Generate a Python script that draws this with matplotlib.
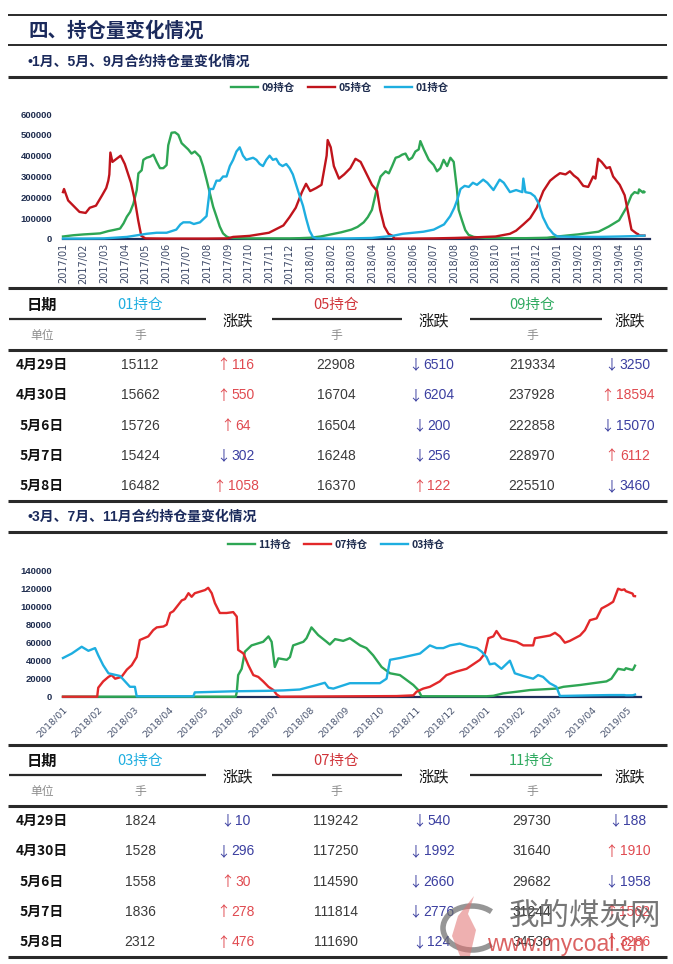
import matplotlib
matplotlib.use('Agg')
import matplotlib.pyplot as plt
from matplotlib.patches import Arc, Polygon

plt.rcParams['font.family'] = ['Noto Sans CJK SC', 'DejaVu Sans']

# ---------------- 表格数据 ----------------
dates = ['4月29日', '4月30日', '5月6日', '5月7日', '5月8日']

oi01 = [15112, 15662, 15726, 15424, 16482]
chg01 = [116, 550, 64, -302, 1058]
oi05 = [22908, 16704, 16504, 16248, 16370]
chg05 = [-6510, -6204, -200, -256, 122]
oi09 = [219334, 237928, 222858, 228970, 225510]
chg09 = [-3250, 18594, -15070, 6112, -3460]

oi03 = [1824, 1528, 1558, 1836, 2312]
chg03 = [-10, -296, 30, 278, 476]
oi07 = [119242, 117250, 114590, 111814, 111690]
chg07 = [-540, -1992, -2660, -2776, -124]
oi11 = [29730, 31640, 29682, 31244, 34530]
chg11 = [-188, 1910, -1958, 1562, 3286]

# ---------------- 图1：1/5/9月合约 (x = 自2017/01起的月份) ----------------
labels1 = ['2017/01', '2017/02', '2017/03', '2017/04', '2017/05', '2017/06',
           '2017/07', '2017/08', '2017/09', '2017/10', '2017/11', '2017/12',
           '2018/01', '2018/02', '2018/03', '2018/04', '2018/05', '2018/06',
           '2018/07', '2018/08', '2018/09', '2018/10', '2018/11', '2018/12',
           '2019/01', '2019/02', '2019/03', '2019/04', '2019/05']
yticks1 = [0, 100000, 200000, 300000, 400000, 500000, 600000]
tail_m1 = [27.93, 27.97, 28.16, 28.19, 28.23]

x09 = [0, 0.5, 1, 1.5, 1.8, 2.2, 2.45, 2.77, 2.94, 3.1, 3.26, 3.42, 3.58,
       3.66, 3.82, 3.9, 4.06, 4.23, 4.39, 4.55, 4.71, 4.87, 5.03, 5.11, 5.27,
       5.44, 5.6, 5.76, 5.92, 6.08, 6.24, 6.4, 6.65, 6.8, 6.97, 7.13, 7.29,
       7.45, 7.61, 7.77, 7.94, 8.1, 9, 10, 11, 11.5, 12, 12.5, 13.0, 13.5,
       14.0, 14.3, 14.6, 14.8, 15.0, 15.26, 15.42, 15.66, 15.82, 15.98, 16.15,
       16.31, 16.47, 16.63, 16.79, 16.95, 17.11, 17.27, 17.35, 17.52, 17.76,
       18.0, 18.16, 18.32, 18.48, 18.65, 18.81, 18.97, 19.13, 19.21, 19.37,
       19.53, 19.69, 19.94, 20.5, 21.5, 22.5, 23.5, 24.0, 25.0, 26.0, 26.5,
       27.0, 27.35, 27.6, 27.75] + tail_m1
y09 = [12000, 18000, 22000, 25000, 27000, 38000, 43000, 50000, 75000, 107000,
       130000, 170000, 235000, 315000, 330000, 380000, 390000, 395000, 405000,
       370000, 340000, 340000, 355000, 450000, 510000, 512000, 500000, 460000,
       445000, 430000, 410000, 420000, 395000, 350000, 285000, 220000, 155000,
       108000, 60000, 27000, 12000, 5000, 3000, 3000, 3000, 4000, 6000, 12000,
       22000, 32000, 45000, 58000, 80000, 105000, 140000, 250000, 300000,
       325000, 315000, 350000, 390000, 395000, 405000, 410000, 380000, 390000,
       420000, 430000, 470000, 430000, 380000, 355000, 325000, 340000, 380000,
       350000, 390000, 370000, 235000, 140000, 90000, 43000, 20000, 10000,
       5000, 4000, 4000, 6000, 12000, 22000, 35000, 60000, 90000, 150000,
       210000, 225000] + oi09

x05 = [0, 0.05, 0.25, 0.5, 0.8, 1.1, 1.3, 1.6, 1.9, 2.1, 2.2, 2.25, 2.3, 2.4,
       2.6, 2.8, 3.0, 3.3, 3.5, 3.65, 3.8, 4.0, 5, 6, 7, 8, 8.26, 9.06, 10.0,
       10.7, 11.0, 11.3, 11.6, 11.8, 12.0, 12.3, 12.55, 12.8, 12.85, 13.0,
       13.15, 13.4, 13.65, 13.95, 14.2, 14.45, 14.6, 14.8, 15.0, 15.25, 15.4,
       15.6, 15.8, 16.0, 16.1, 17, 18, 19, 20, 21, 21.7, 22.0, 22.35, 22.68,
       23.0, 23.32, 23.65, 23.9, 24.13, 24.4, 24.61, 24.8, 25.0, 25.26, 25.5,
       25.74, 25.85, 25.98, 26.15, 26.39, 26.55, 26.71, 27.03, 27.27, 27.44,
       27.6, 27.84] + tail_m1
y05 = [225000, 240000, 185000, 160000, 130000, 125000, 150000, 160000, 210000,
       245000, 280000, 310000, 415000, 370000, 385000, 400000, 360000, 270000,
       180000, 90000, 15000, 3000, 2000, 2000, 2000, 3000, 10000, 15000, 30000,
       65000, 105000, 150000, 225000, 265000, 230000, 245000, 260000, 400000,
       475000, 440000, 350000, 290000, 310000, 340000, 385000, 370000, 340000,
       300000, 260000, 230000, 140000, 60000, 25000, 15000, 2000, 2000, 3000,
       5000, 8000, 12000, 25000, 40000, 70000, 100000, 150000, 230000, 280000,
       300000, 316000, 310000, 325000, 305000, 290000, 255000, 250000, 300000,
       290000, 385000, 370000, 340000, 345000, 300000, 260000, 210000, 125000,
       45000, 27000] + oi05

x01 = [0, 1, 2, 3.1, 3.74, 4.06, 4.55, 5.03, 5.5, 5.7, 5.84, 6.16, 6.35, 6.65,
       6.97, 7.13, 7.29, 7.45, 7.61, 7.77, 7.94, 8.1, 8.26, 8.42, 8.58, 8.74,
       8.9, 9.06, 9.23, 9.39, 9.55, 9.71, 9.87, 10.03, 10.19, 10.35, 10.5,
       10.66, 10.84, 11.0, 11.16, 11.32, 11.48, 11.65, 11.8, 11.97, 12.13,
       12.3, 13, 14, 15.0, 16.0, 16.5, 17.0, 17.5, 18.0, 18.5, 18.8, 19.0,
       19.15, 19.3, 19.5, 19.7, 19.9, 20.1, 20.4, 20.6, 20.9, 21.2, 21.4, 21.7,
       22.0, 22.3, 22.35, 22.45, 22.7, 22.9, 23.1, 23.3, 23.55, 23.8, 24.0,
       25.0, 26.0, 27.0, 27.8] + tail_m1
y01 = [2000, 2000, 3000, 10000, 20000, 25000, 30000, 30000, 45000, 70000,
       80000, 80000, 72000, 80000, 110000, 240000, 240000, 280000, 280000,
       300000, 300000, 350000, 380000, 420000, 440000, 400000, 380000, 385000,
       390000, 380000, 360000, 350000, 380000, 400000, 380000, 385000, 360000,
       350000, 360000, 340000, 310000, 260000, 210000, 160000, 100000, 40000,
       10000, 3000, 2000, 3000, 5000, 15000, 25000, 30000, 35000, 45000, 70000,
       110000, 150000, 190000, 240000, 255000, 250000, 270000, 260000, 285000,
       270000, 235000, 285000, 270000, 225000, 235000, 225000, 290000, 225000,
       220000, 205000, 170000, 105000, 55000, 25000, 12000, 10000, 10000,
       12000, 14000] + oi01

# ---------------- 图2：3/7/11月合约 (x = 自2018/01起的月份) ----------------
labels2 = ['2018/01', '2018/02', '2018/03', '2018/04', '2018/05', '2018/06',
           '2018/07', '2018/08', '2018/09', '2018/10', '2018/11', '2018/12',
           '2019/01', '2019/02', '2019/03', '2019/04', '2019/05']
yticks2 = [0, 20000, 40000, 60000, 80000, 100000, 120000, 140000]
tail_m2 = [15.93, 15.97, 16.16, 16.19, 16.23]

x11 = [0, 4.9, 4.93, 4.97, 5.07, 5.16, 5.35, 5.68, 5.83, 5.92, 6.01, 6.11,
       6.35, 6.44, 6.53, 6.82, 6.91, 7.05, 7.24, 7.48, 7.57, 7.72, 7.95, 8.14,
       8.43, 8.61, 8.8, 9.04, 9.28, 9.56, 9.7, 9.94, 10.08, 10.17, 12.02,
       12.21, 12.49, 12.87, 13.25, 14.0, 14.2, 14.67, 15.04, 15.42, 15.56,
       15.75] + tail_m2
y11 = [0, 0, 5000, 24000, 31000, 50000, 57000, 61000, 67000, 61000, 33000,
       42600, 41000, 44000, 57000, 61000, 65000, 77000, 68500, 61000, 58000,
       64000, 62000, 65000, 57000, 54000, 46000, 33000, 26000, 24000, 20000,
       13000, 7400, 500, 500, 1000, 3700, 5500, 7400, 9000, 11000, 13000,
       15000, 17000, 20000, 31000] + oi11

x07 = [0, 0.97, 1.0, 1.14, 1.29, 1.38, 1.48, 1.66, 1.81, 1.95, 2.09, 2.18,
       2.42, 2.56, 2.66, 2.85, 2.94, 3.04, 3.13, 3.27, 3.37, 3.46, 3.56, 3.65,
       3.74, 4.03, 4.12, 4.22, 4.31, 4.45, 4.64, 4.83, 4.93, 4.97, 5.12, 5.26,
       5.4, 5.54, 5.68, 5.83, 5.97, 6.06, 6.16, 9.47, 9.94, 10.03, 10.22,
       10.41, 10.69, 10.88, 11.17, 11.45, 11.64, 11.83, 11.97, 12.07, 12.21,
       12.3, 12.44, 12.63, 12.87, 13.06, 13.34, 13.39, 13.82, 13.96, 14.1,
       14.24, 14.38, 14.67, 14.81, 14.95, 15.14, 15.28, 15.47, 15.61, 15.75,
       15.85] + tail_m2
y07 = [0, 0, 10000, 17000, 22000, 24000, 20000, 22000, 30000, 35000, 44000,
       63000, 67000, 74000, 77000, 78000, 80000, 93000, 95000, 102000, 107000,
       108500, 115000, 111000, 115000, 118500, 121000, 115000, 104000, 93000,
       93000, 94000, 89000, 52000, 48000, 35000, 24000, 22000, 17000, 11000,
       7400, 2600, 0, 700, 1500, 5500, 9000, 11000, 17000, 24000, 28000, 31000,
       36000, 41000, 48000, 65000, 67000, 73000, 65000, 63000, 61000, 57000,
       57000, 65000, 68000, 71000, 67000, 60000, 62000, 68000, 74000, 85000,
       87000, 98000, 102000, 105500, 120000, 118500] + oi07

x03 = [0, 0.25, 0.53, 0.72, 0.91, 1.0, 1.14, 1.29, 1.62, 1.76, 1.9, 2.04,
       2.09, 3.0, 3.7, 3.74, 4.83, 5.78, 6.25, 6.72, 7.01, 7.2, 7.43, 7.53,
       7.67, 8.14, 8.99, 9.18, 9.28, 9.56, 10.13, 10.41, 10.6, 10.79, 10.98,
       11.26, 11.5, 11.74, 11.88, 12.02, 12.11, 12.25, 12.44, 12.68, 12.82,
       13.06, 13.34, 13.48, 13.62, 13.81, 14.0, 14.1, 15.0, 15.5] + tail_m2
y03 = [43000, 48000, 55500, 51000, 54000, 46000, 35000, 26000, 23000, 17000,
       11000, 11000, 500, 500, 500, 4800, 6000, 6500, 7000, 8000, 11000, 13000,
       15500, 10000, 9000, 15000, 15000, 20000, 41000, 43000, 48000, 57000,
       54000, 54000, 57000, 59000, 56000, 54000, 50000, 44000, 36000, 37000,
       31000, 40000, 26000, 23000, 20000, 24000, 22000, 15000, 11000, 800,
       1500, 1800] + oi03

# ---------------- 样式 ----------------
NAVY = '#1b2a5c'
GREEN = '#2ea654'
RED1 = '#c0141c'
RED2 = '#e2282a'
BLUE = '#1eaee0'
UP = '#e04a50'
DOWN = '#3b3fa0'
NUM = ['Liberation Sans Narrow', 'Liberation Sans', 'Noto Sans CJK SC']
SUB = ['Liberation Sans', 'Noto Sans CJK SC']

fig = plt.figure(figsize=(6.73, 9.64), dpi=100)
renderer = fig.canvas.get_renderer()

# 像素坐标的覆盖层，用于标题、分隔线和表格
ov = fig.add_axes([0, 0, 1, 1])
ov.set_xlim(0, 673)
ov.set_ylim(964, 0)
ov.axis('off')


def hline(y, x0=8, x1=667, lw=1.6, color='#2a2a2a'):
    ov.plot([x0, x1], [y, y], color=color, lw=lw, solid_capstyle='butt')


ov.text(28, 31, '四、持仓量变化情况', fontsize=14, weight='bold', color=NAVY,
        ha='left', va='center')
hline(15, lw=1.4)
hline(45, lw=1.4)
ov.text(28, 62, '•1月、5月、9月合约持仓量变化情况', fontsize=10,
        weight='bold', color=NAVY, ha='left', va='center', family=SUB)
hline(76.5, lw=2.2)
hline(288, lw=2.2)
ov.text(28, 517, '•3月、7月、11月合约持仓量变化情况', fontsize=10,
        weight='bold', color=NAVY, ha='left', va='center', family=SUB)
hline(532, lw=2.2)
hline(744.5, lw=2.2)


def draw_table(y0, heads, head_colors, oi_cols, chg_cols):
    cols = [42, 140, 238, 336, 434, 532, 630]
    ov.text(cols[0], y0, '日期', fontsize=11, weight='bold', color='#111111',
            ha='center', va='center')
    ov.text(cols[0], y0 + 31, '单位', fontsize=8.5, color='#8c8c8c',
            ha='center', va='center')
    for k in range(3):
        cx = cols[1 + 2 * k]
        ov.text(cx, y0, heads[k], fontsize=10.5, color=head_colors[k],
                ha='center', va='center')
        ov.text(cx, y0 + 31, '手', fontsize=8.5, color='#8c8c8c',
                ha='center', va='center')
        ov.text(cols[2 + 2 * k], y0 + 16, '涨跌', fontsize=11,
                color='#1a1a1a', ha='center', va='center')
    for x0, x1 in [(9, 206), (272, 402), (470, 602)]:
        hline(y0 + 14, x0, x1, lw=1.6)
    hline(y0 + 45, lw=2.2)
    for i, d in enumerate(dates):
        ry = y0 + 60 + 30.3 * i
        ov.text(cols[0], ry, d, fontsize=10, weight='bold', color='#111111',
                ha='center', va='center')
        for k in range(3):
            ov.text(cols[1 + 2 * k], ry, str(oi_cols[k][i]), fontsize=10,
                    color='#3a3a3a', ha='center', va='center', family=NUM)
            c = chg_cols[k][i]
            cx = cols[2 + 2 * k]
            col = UP if c > 0 else DOWN
            num = ov.text(cx + 5, ry, str(abs(c)), fontsize=10, color=col,
                          ha='center', va='center', family=NUM)
            # 箭头紧贴数字左侧
            left_px = num.get_window_extent(renderer=renderer).x0
            left = ov.transData.inverted().transform((left_px, 0))[0]
            ov.text(left - 1.5, ry + 0.5, '↑' if c > 0 else '↓',
                    fontsize=10, color=col, ha='right', va='center',
                    family=['Noto Sans CJK SC'])
    hline(y0 + 196, lw=2.2)


draw_table(305, ['01持仓', '05持仓', '09持仓'], [BLUE, '#d0343a', '#2faa60'],
           [oi01, oi05, oi09], [chg01, chg05, chg09])
draw_table(761, ['03持仓', '07持仓', '11持仓'], [BLUE, '#d0343a', '#2faa60'],
           [oi03, oi07, oi11], [chg03, chg07, chg11])

# 水印（标志 + 文字）
ov.add_patch(Arc((472, 928), 58, 44, theta1=40, theta2=320, lw=4,
                 color='#6a6a6a', alpha=0.7, zorder=9))
ov.add_patch(Polygon([(460, 956), (452, 936), (458, 916), (474, 896),
                      (468, 914), (476, 930), (470, 956)], closed=True,
                     facecolor='#e07070', edgecolor='none', alpha=0.55,
                     zorder=9))
ov.text(585, 916, '我的煤炭网', fontsize=22, color='#555555', alpha=0.8,
        ha='center', va='center', zorder=10)
ov.text(566, 944, 'www.mycoal.cn', fontsize=16.5, color='#d23c3c', alpha=0.8,
        ha='center', va='center', zorder=10, family=['Liberation Sans'])


def style_axis(ax, yticks, labels):
    ax.patch.set_visible(False)
    for s in ['top', 'right', 'left']:
        ax.spines[s].set_visible(False)
    ax.spines['bottom'].set_color('#1f2d5a')
    ax.spines['bottom'].set_linewidth(1.6)
    ax.spines['bottom'].set_zorder(1)
    ax.set_yticks(yticks)
    ax.set_yticklabels([str(v) for v in yticks], fontsize=6.8,
                       fontweight='bold', color='#1f2d4f',
                       family=['Liberation Sans'])
    ax.set_xticks(range(len(labels)))
    ax.tick_params(length=0)
    ax.tick_params(axis='y', pad=8)


# 图1
ax1 = fig.add_axes([63 / 673, (964 - 239) / 964, (650 - 63) / 673, 125 / 964])
ax1.plot(x09, y09, color=GREEN, lw=1.7, label='09持仓', clip_on=False, zorder=3)
ax1.plot(x05, y05, color=RED1, lw=1.7, label='05持仓', clip_on=False, zorder=3)
ax1.plot(x01, y01, color=BLUE, lw=1.7, label='01持仓', clip_on=False, zorder=3)
ax1.set_xlim(0, 28.5)
ax1.set_ylim(0, 600000)
style_axis(ax1, yticks1, labels1)
ax1.set_xticklabels(labels1, rotation=90, fontsize=7, color='#3c4866',
                    family=['DejaVu Sans'])
ax1.tick_params(axis='x', pad=3)
ax1.legend(loc='center', bbox_to_anchor=(340 / 673, 1 - 88 / 964),
           bbox_transform=fig.transFigure, ncol=3, frameon=False,
           prop={'size': 7.5, 'weight': 'bold'}, labelcolor='#1f2d4f',
           handlelength=2.6, handletextpad=0.3, columnspacing=1.3)

# 图2
ax2 = fig.add_axes([63 / 673, (964 - 696.7) / 964, (641 - 63) / 673, 126 / 964])
ax2.plot(x11, y11, color=GREEN, lw=1.7, label='11持仓', clip_on=False, zorder=3)
ax2.plot(x07, y07, color=RED2, lw=1.7, label='07持仓', clip_on=False, zorder=3)
ax2.plot(x03, y03, color=BLUE, lw=1.7, label='03持仓', clip_on=False, zorder=3)
ax2.set_xlim(0, 16.4)
ax2.set_ylim(0, 140000)
style_axis(ax2, yticks2, labels2)
ax2.set_xticklabels(labels2, rotation=45, ha='right', rotation_mode='anchor',
                    fontsize=6.8, color='#4a5570', family=['DejaVu Sans'])
ax2.tick_params(axis='x', pad=6)
ax2.legend(loc='center', bbox_to_anchor=(336 / 673, 1 - 545 / 964),
           bbox_transform=fig.transFigure, ncol=3, frameon=False,
           prop={'size': 7.5, 'weight': 'bold'}, labelcolor='#1f2d4f',
           handlelength=2.6, handletextpad=0.3, columnspacing=1.3)

fig.savefig('out.png', dpi=100)
